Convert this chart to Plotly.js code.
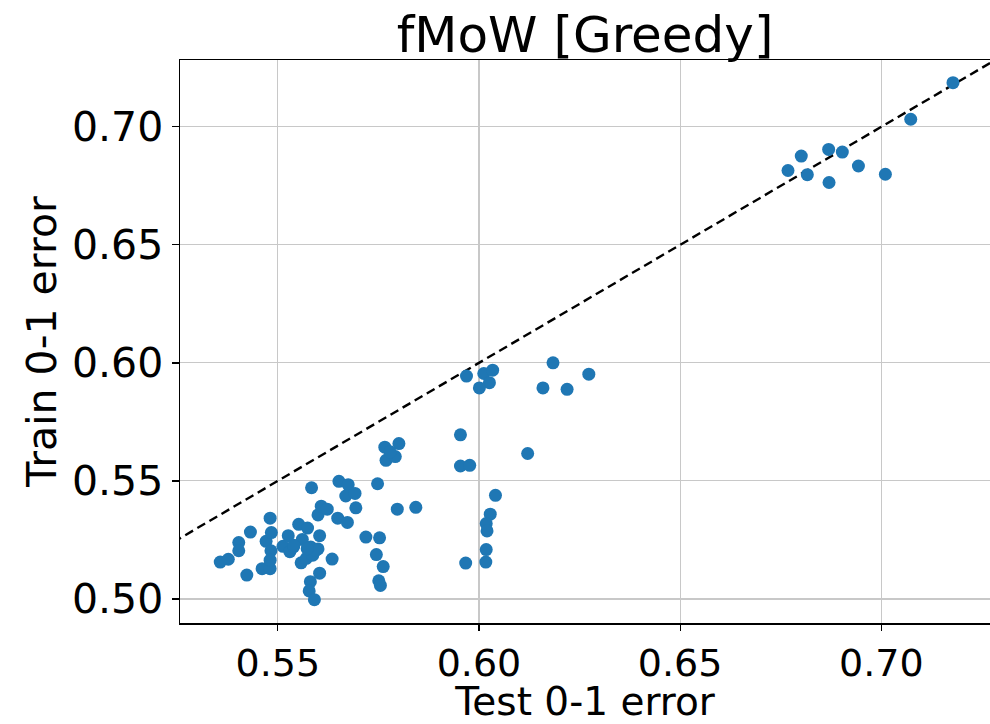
<!DOCTYPE html>
<html>
<head>
<meta charset="utf-8">
<script src="https://cdn.plot.ly/plotly-3.0.1.min.js"></script>
<style>body{margin:0;padding:0;background:#fff;}#chart{width:990px;height:724px;}</style>
</head>
<body>
<div id="chart"></div>
<script>
const testError = [
  0.7178,0.7073,0.6801,0.6869,0.6903,0.6768,0.6816,0.6943,0.6870,0.7010,
  0.5969,0.6012,0.6034,0.6026,0.6001,0.6184,0.6273,0.6159,0.6219,0.5954,
  0.6121,0.5954,0.5977,0.6041,0.6028,0.6018,0.6020,0.6018,0.5967,0.6017,
  0.5357,0.5377,0.5403,0.5403,0.5423,0.5432,0.5461,0.5481,0.5471,0.5481,
  0.5484,0.5483,0.5481,0.5513,0.5526,0.5530,0.5539,0.5552,0.5574,0.5561,
  0.5558,0.5571,0.5584,0.5582,0.5587,0.5600,0.5604,0.5600,0.5608,0.5623,
  0.5604,0.5581,0.5578,0.5591,0.5635,0.5649,0.5673,0.5652,0.5675,0.5669,
  0.5692,0.5694,0.5719,0.5748,0.5753,0.5745,0.5762,0.5751,0.5755,0.5766,
  0.5801,0.5769,0.5792,0.5779,0.5797,0.5843,0.5540,0.5594,0.5573
];
const trainError = [
  0.7187,0.7032,0.6876,0.6904,0.6893,0.6815,0.6797,0.6834,0.6764,0.6799,
  0.5944,0.5955,0.5969,0.5916,0.5894,0.6000,0.5952,0.5894,0.5888,0.5695,
  0.5616,0.5563,0.5566,0.5439,0.5359,0.5319,0.5288,0.5209,0.5152,0.5156,
  0.5156,0.5168,0.5239,0.5204,0.5101,0.5283,0.5128,0.5128,0.5244,0.5342,
  0.5281,0.5204,0.5164,0.5223,0.5268,0.5200,0.5220,0.5316,0.5300,0.5252,
  0.5153,0.5172,0.5471,0.5220,0.5185,0.5212,0.5268,0.5356,0.5393,0.5380,
  0.5109,0.5073,0.5034,0.4997,0.5169,0.5342,0.5324,0.5498,0.5484,0.5436,
  0.5447,0.5386,0.5262,0.5488,0.5259,0.5188,0.5137,0.5077,0.5057,0.5643,
  0.5658,0.5587,0.5603,0.5623,0.5380,0.5388,0.5227,0.5206,0.5213
];
const diagonal = [0.50, 0.75];
const xTicks = [0.55, 0.60, 0.65, 0.70];
const yTicks = [0.50, 0.55, 0.60, 0.65, 0.70];

const font = "DejaVu Sans, sans-serif";
const traces = [
  {
    x: diagonal, y: diagonal, type: 'scatter', mode: 'lines',
    line: {color: '#000000', width: 2.4, dash: '9px,5px'},
    hoverinfo: 'skip', showlegend: false
  },
  {
    x: testError, y: trainError, type: 'scatter', mode: 'markers',
    marker: {color: '#1f77b4', size: 13, line: {width: 0}},
    showlegend: false
  }
];
const layout = {
  width: 990, height: 724,
  margin: {l: 180, r: 0, t: 60, b: 101, pad: 0},
  paper_bgcolor: '#ffffff', plot_bgcolor: '#ffffff',
  font: {family: font, color: '#000000'},
  title: {text: 'fMoW [Greedy]', font: {family: font, size: 50, color: '#000'}, x: 0.591, xanchor: 'center', y: 0.952, yanchor: 'middle'},
  xaxis: {
    range: [0.5257, 0.727], tickvals: xTicks, ticktext: xTicks.map(v => v.toFixed(2)),
    showgrid: true, gridcolor: '#c8c8c8', gridwidth: 1.2, zeroline: false,
    showline: true, linecolor: '#000', linewidth: 1.5, mirror: true,
    ticks: 'outside', ticklen: 6, tickwidth: 1.3, tickcolor: '#000',
    tickfont: {family: font, size: 38, color: '#000'},
    title: {text: 'Test 0-1 error', font: {family: font, size: 39, color: '#000'}, standoff: 10},
    automargin: false
  },
  yaxis: {
    range: [0.4898, 0.7283], tickvals: yTicks, ticktext: yTicks.map(v => v.toFixed(2)),
    showgrid: true, gridcolor: '#c8c8c8', gridwidth: 1.2, zeroline: false,
    showline: true, linecolor: '#000', linewidth: 1.5, mirror: false,
    ticks: 'outside', ticklen: 7, tickwidth: 1.3, tickcolor: '#000',
    tickfont: {family: font, size: 41, color: '#000'},
    title: {text: 'Train 0-1 error', font: {family: font, size: 41, color: '#000'}, standoff: 2},
    automargin: false
  }
};
Plotly.newPlot('chart', traces, layout, {staticPlot: true, displayModeBar: false});
</script>
</body>
</html>
